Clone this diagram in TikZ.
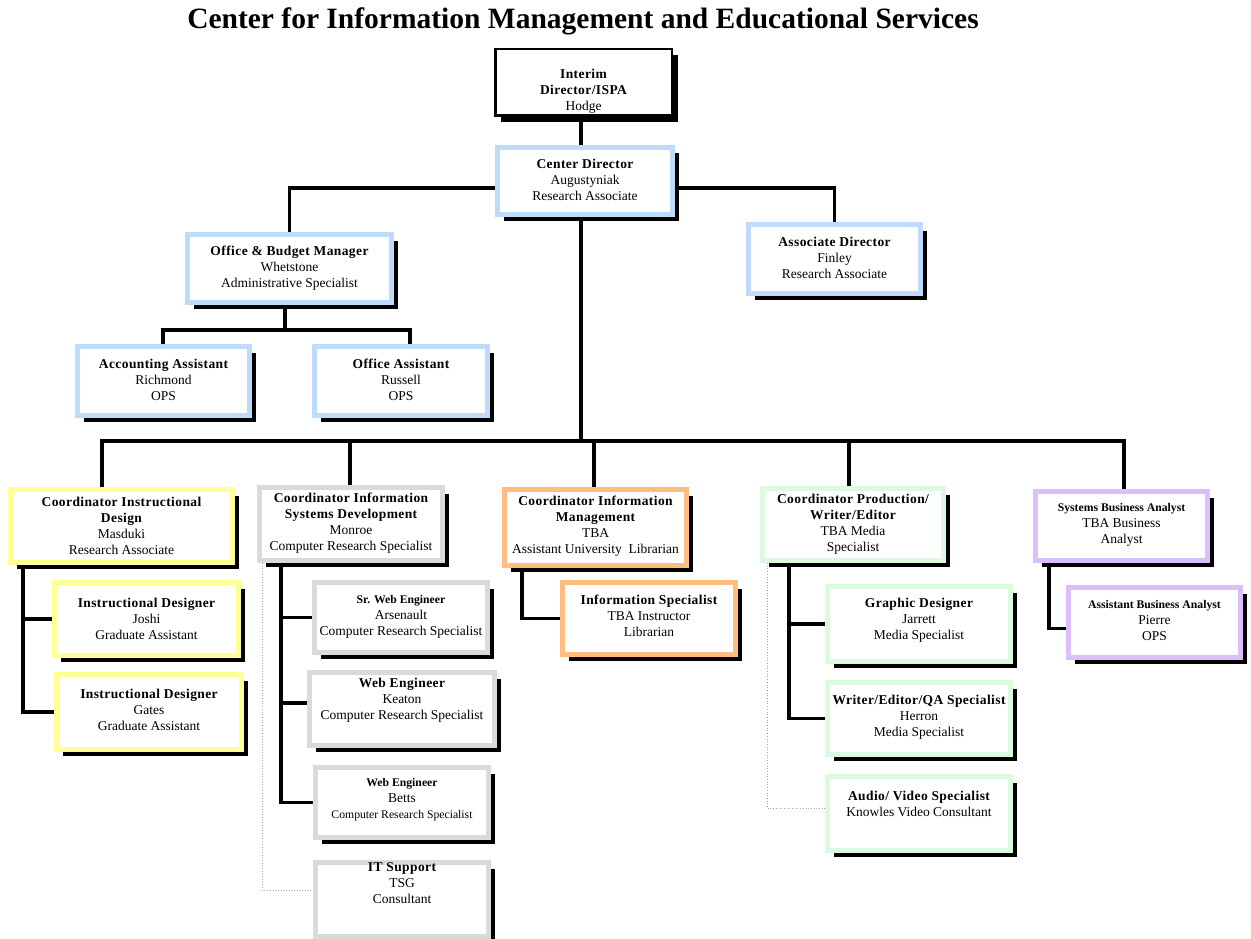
\documentclass[tikz,border=0pt]{standalone}
\usepackage{fontspec}
\setmainfont{Liberation Serif}
\usetikzlibrary{shadows,backgrounds}
\definecolor{cblue}{RGB}{190,220,250}
\definecolor{cyel}{RGB}{255,255,150}
\definecolor{cgray}{RGB}{218,218,218}
\definecolor{corange}{RGB}{255,190,128}
\definecolor{cgreen}{RGB}{222,250,222}
\definecolor{cpurple}{RGB}{220,190,250}
\newcommand\hd[1]{{\bfseries\addfontfeatures{LetterSpace=3}#1}}
\newcommand\nm{\fontsize{13.5}{16}\selectfont}
\newcommand\sm{\fontsize{11.7}{14.5}\selectfont}
\tikzset{
  orgframe/.style={draw=#1, line width=5pt, fill=white, rectangle, inner sep=0pt,
    drop shadow={shadow xshift=6pt, shadow yshift=-6pt, fill=black, opacity=1}},
  txt/.style={align=center, font=\nm, inner sep=0pt},
  conn/.style={line width=3.5pt, draw=black},
  dotl/.style={draw=black!35, line width=0.7pt, dotted}
}
\newcommand\orgbox[9]{%
  \node[orgframe=#2, minimum width={#5-#3-5}, minimum height={#6-#4-5}] (#1) at ({(#3+#5)/2},{(#4+#6)/2}) {};
  \node[txt,#8] (#1-t) at ({(#3+#5)/2},#7) {#9};
}
\begin{document}
\begin{tikzpicture}[x=1pt,y=-1pt]
\useasboundingbox (0,0) rectangle (1251,939);
\node[font=\fontsize{29.5}{34}\selectfont\bfseries, inner sep=0pt] (title) at (583,21) {Center for Information Management and Educational Services};

% Interim
\node[draw=black, line width=2.5pt, fill=white, rectangle, inner sep=0pt,
  minimum width=176.5, minimum height=66.5,
  drop shadow={shadow xshift=6pt, shadow yshift=-6pt, fill=black, opacity=1}] (interim) at (583.5,82.5) {};
\node[txt] (interim-t) at (583.5,91) {\hd{Interim}\\\hd{Director/ISPA}\\Hodge};

\orgbox{cd}{cblue}{495}{145}{675}{217}{180}{}{\hd{Center Director}\\Augustyniak\\Research Associate}
\orgbox{ob}{cblue}{185}{232}{394}{305}{268}{}{\hd{Office \& Budget Manager}\\Whetstone\\Administrative Specialist}
\orgbox{ad}{cblue}{746}{222}{923}{296}{258}{}{\hd{Associate Director}\\Finley\\Research Associate}
\orgbox{acc}{cblue}{75}{344}{252}{418}{380}{}{\hd{Accounting Assistant}\\Richmond\\OPS}
\orgbox{oa}{cblue}{312}{344}{490}{418}{380}{}{\hd{Office Assistant}\\Russell\\OPS}

\orgbox{cid}{cyel}{8}{487}{235}{565}{526}{}{\hd{Coordinator Instructional}\\\hd{Design}\\Masduki\\Research Associate}
\orgbox{isd}{cgray}{257}{485}{445}{563}{523}{}{\hd{Coordinator Information}\\\hd{Systems Development}\\Monroe\\Computer Research Specialist}
\orgbox{cim}{corange}{502}{487}{689}{568}{526}{}{\hd{Coordinator Information}\\\hd{Management}\\TBA\\Assistant University~ Librarian}
\orgbox{cp}{cgreen}{760}{486}{946}{563}{524.5}{}{\hd{Coordinator Production/}\\\hd{Writer/Editor}\\TBA Media\\Specialist}
\orgbox{sba}{cpurple}{1033}{489}{1210}{563}{525}{}{\sm\textbf{Systems Business Analyst}\\\nm TBA Business\\Analyst}

\orgbox{joshi}{cyel}{52}{580}{241}{658}{619}{}{\hd{Instructional Designer}\\Joshi\\Graduate Assistant}
\orgbox{gates}{cyel}{54}{672}{244}{752}{710}{}{\hd{Instructional Designer}\\Gates\\Graduate Assistant}

\orgbox{sr}{cgray}{312}{580}{490}{655}{617}{}{\sm\textbf{Sr. Web Engineer}\\Arsenault\\Computer Research Specialist}
\orgbox{keaton}{cgray}{307}{670}{497}{748}{700}{}{\hd{Web Engineer}\\Keaton\\Computer Research Specialist}
\orgbox{betts}{cgray}{313}{765}{491}{840}{800}{}{\sm\textbf{Web Engineer}\\\nm Betts\\\sm Computer Research Specialist}
\orgbox{its}{cgray}{313}{860}{491}{939}{883}{}{\hd{IT Support}\\TSG\\Consultant}

\orgbox{isp}{corange}{560}{580}{738}{657}{616}{}{\hd{Information Specialist}\\TBA Instructor\\Librarian}

\orgbox{gd}{cgreen}{825}{584}{1013}{664}{620}{}{\hd{Graphic Designer}\\Jarrett\\Media Specialist}
\orgbox{wr}{cgreen}{825}{680}{1013}{757}{717}{}{\hd{Writer/Editor/QA Specialist}\\Herron\\Media Specialist}
\orgbox{av}{cgreen}{825}{774}{1013}{853}{804}{}{\hd{Audio/ Video Specialist}\\Knowles Video Consultant}

\orgbox{aba}{cpurple}{1066}{585}{1243}{660}{621}{}{\sm\textbf{Assistant Business Analyst}\\\nm Pierre\\OPS}

\begin{pgfonlayer}{background}
\coordinate (sp) at (581,441);
\coordinate (hb) at (581,188);
\coordinate (o2) at (285,330);
\coordinate (b1) at (102,441);
\coordinate (b2) at (350,441);
\coordinate (b3) at (594,441);
\coordinate (b4) at (849,441);
\coordinate (b5) at (1124,441);
\coordinate (kw) at ([yshift=6pt]keaton.west);
\coordinate (abw) at ([yshift=-6pt]aba.west);

\draw[conn] (interim.south -| sp) -- (cd.north -| sp);
\draw[conn] (ob.north) |- (hb) -| (ad.north);
\draw[conn] (cd.south -| sp) -- (sp);
\draw[conn] (ob.south -| o2) -- (o2);
\draw[conn] (acc.north -| 163,0) |- (o2) -| (oa.north -| 410,0);

\draw[conn] (cid.north -| b1) -- (b1) -- (b5) -- (sba.north -| b5);
\draw[conn] (b2) -- (isd.north -| b2);
\draw[conn] (b3) -- (cim.north -| b3);
\draw[conn] (b4) -- (cp.north -| b4);

\draw[conn] (cid.south -| 23,0) |- (gates.west);
\draw[conn] (joshi.west -| 23,0) -- (joshi.west);

\draw[conn] (isd.south -| 281,0) |- (betts.west);
\draw[conn] (sr.west -| 281,0) -- (sr.west);
\draw[conn] (kw -| 281,0) -- (kw);
\draw[dotl] (isd.south -| 262,0) |- (its.west |- 0,890);

\draw[conn] (cim.south -| 522,0) |- (isp.west);

\draw[conn] (cp.south -| 789,0) |- (wr.west);
\draw[conn] (gd.west -| 789,0) -- (gd.west);
\draw[dotl] (cp.south -| 767,0) |- (av.west |- 0,808);

\draw[conn] (sba.south -| 1049,0) |- (abw);
\end{pgfonlayer}
\end{tikzpicture}
\end{document}
